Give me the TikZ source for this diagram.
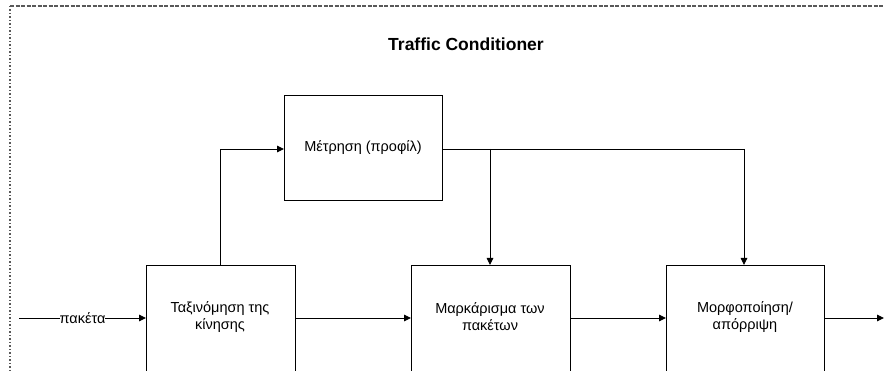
\documentclass[tikz,border=0pt]{standalone}
\usepackage{fontspec}
\setmainfont{Liberation Sans}
\usetikzlibrary{arrows.meta}
\begin{document}
\begin{tikzpicture}[x=1pt,y=-1pt,
  box/.style={draw,line width=0.9pt,minimum width=#1,inner sep=0pt,anchor=north west},
  label text/.style={font=\fontsize{14.5}{17}\selectfont,align=center,inner sep=0pt},
  flow/.style={line width=0.9pt,-{Triangle[length=7pt,width=6.5pt]}},
  wire/.style={line width=0.9pt},
  frame/.style={draw=black!65,line width=1.2pt}]
\useasboundingbox (0,0) rectangle (884,371);
\clip (0,0) rectangle (884,371);
% dashed outline of the conditioner
\draw[frame,dash pattern=on 4pt off 1.5pt] (10,6) -- (890,6);
\draw[frame,dash pattern=on 1.5pt off 2pt] (10,6) -- (10,380);
\node[font=\bfseries\fontsize{17.5}{20}\selectfont] (title) at (466,44) {Traffic Conditioner};
% boxes
\node[box=158pt,minimum height=105pt] (meter) at (284,95) {};
\node[box=149pt,minimum height=130pt] (cls) at (146,265) {};
\node[box=159pt,minimum height=130pt] (mark) at (411,265) {};
\node[box=158pt,minimum height=130pt] (shape) at (666,265) {};
% box texts
\node[label text] (meter-t) at (363,148) {Μέτρηση (προφίλ)};
\node[label text] (cls-t) at (220,317) {Ταξινόμηση της\\κίνησης};
\node[label text] (mark-t) at (490,317) {Μαρκάρισμα των\\πακέτων};
\node[label text] (shape-t) at (745,317) {Μορφοποίηση/\\απόρριψη};
% input and output
\coordinate (in) at (19,318);
\coordinate (out) at (884,318);
\draw[flow] (in) -- (cls.west |- in) node[pos=0.5,fill=white,inner xsep=1pt,label text] (pkt) {πακέτα};
\draw[flow] (cls.east |- in) -- (mark.west |- in);
\draw[flow] (mark.east |- in) -- (shape.west |- in);
\draw[flow] (shape.east |- in) -- (out);
% classifier to meter
\coordinate (up) at (220,149);
\draw[wire] (cls.north -| up) -- (up);
\draw[flow] (up) -- (meter.west |- up);
% meter results to marker and shaper
\coordinate (b1) at (490,149);
\coordinate (b2) at (744,149);
\draw[wire] (meter.east |- b1) -- (b2);
\draw[flow] (b1) -- (mark.north -| b1);
\draw[flow] (b2) -- (shape.north -| b2);
\end{tikzpicture}
\end{document}
